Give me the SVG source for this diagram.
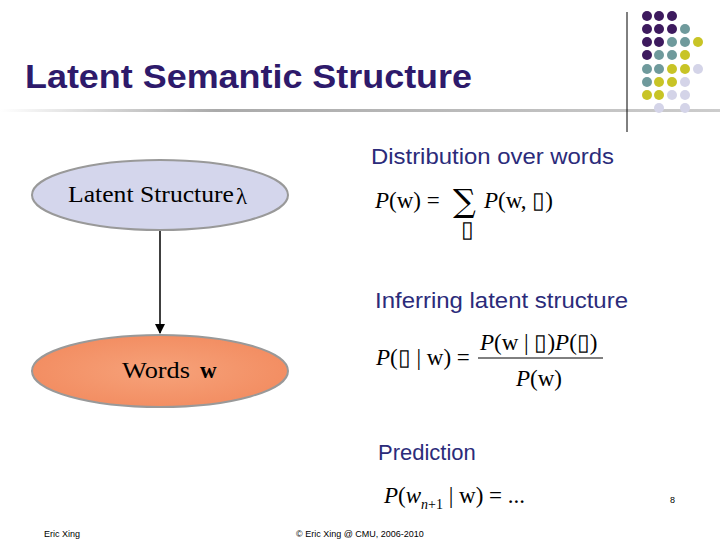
<svg xmlns="http://www.w3.org/2000/svg" width="720" height="540" viewBox="0 0 720 540">
<style>
.bl{font-family:"Liberation Sans",Arial,sans-serif;font-size:22px;fill:#2b2b7a}
.m{font-family:"Liberation Serif","Times New Roman",serif;font-size:23px;fill:#000}
.f{font-family:"Liberation Sans",Arial,sans-serif;font-size:9px;fill:#000}
.p{fill:#3d1a5e}.t{fill:#6f9a9c}.y{fill:#c8c426}.l{fill:#d4d4e8}
</style>
<defs>
<linearGradient id="hl" x1="0" x2="1"><stop offset="0" stop-color="#fff"/><stop offset="0.3" stop-color="#aaa"/><stop offset="1" stop-color="#ccc"/></linearGradient>
<radialGradient id="og" cx="0.5" cy="0.5" r="0.6"><stop offset="0" stop-color="#f6a27a"/><stop offset="1" stop-color="#f28a5e"/></radialGradient>
<marker id="ar" markerWidth="10" markerHeight="10" refX="9" refY="5" orient="auto" markerUnits="userSpaceOnUse"><path d="M0,0 L10,5 L0,10 z" fill="#000"/></marker>
</defs>
<rect width="720" height="540" fill="#fff"/>
<rect x="0" y="109" width="720" height="3" fill="url(#hl)"/>
<line x1="627" y1="12" x2="627" y2="132" stroke="#000" stroke-width="1"/>
<g id="dots">
<circle class="p" cx="647" cy="16" r="5"/><circle class="p" cx="659" cy="16" r="5"/><circle class="p" cx="672" cy="16" r="5"/>
<circle class="p" cx="647" cy="29" r="5"/><circle class="p" cx="659" cy="29" r="5"/><circle class="p" cx="672" cy="29" r="5"/><circle class="t" cx="685" cy="29" r="5"/>
<circle class="p" cx="647" cy="42" r="5"/><circle class="p" cx="659" cy="42" r="5"/><circle class="t" cx="672" cy="42" r="5"/><circle class="t" cx="685" cy="42" r="5"/><circle class="y" cx="698" cy="42" r="5"/>
<circle class="p" cx="647" cy="55" r="5"/><circle class="t" cx="659" cy="55" r="5"/><circle class="t" cx="672" cy="55" r="5"/><circle class="y" cx="685" cy="55" r="5"/>
<circle class="t" cx="647" cy="69" r="5"/><circle class="t" cx="659" cy="69" r="5"/><circle class="y" cx="672" cy="69" r="5"/><circle class="y" cx="685" cy="69" r="5"/><circle class="l" cx="698" cy="69" r="5"/>
<circle class="t" cx="647" cy="82" r="5"/><circle class="y" cx="659" cy="82" r="5"/><circle class="y" cx="672" cy="82" r="5"/><circle class="l" cx="685" cy="82" r="5"/>
<circle class="y" cx="647" cy="95" r="5"/><circle class="y" cx="659" cy="95" r="5"/><circle class="l" cx="672" cy="95" r="5"/><circle class="l" cx="685" cy="95" r="5"/>
<circle class="l" cx="659" cy="108" r="5"/><circle class="l" cx="685" cy="108" r="5"/>
</g>
<text x="25" y="88" font-family="Liberation Sans,Arial,sans-serif" font-size="34" font-weight="bold" fill="#2e1a6b" textLength="447" lengthAdjust="spacingAndGlyphs">Latent Semantic Structure</text>
<g id="connectors">
<line x1="160" y1="231" x2="160" y2="333" stroke="#000" stroke-width="1.5" marker-end="url(#ar)"/>
</g>
<g id="latent">
<ellipse cx="160" cy="195" rx="128" ry="35" fill="#d4d6ec" stroke="#999" stroke-width="2"/>
<text x="68" y="202" class="m" font-size="22" textLength="166" lengthAdjust="spacingAndGlyphs">Latent Structure</text>
<text x="236" y="204" class="m" font-size="28">λ</text>
</g>
<g id="words">
<ellipse cx="160" cy="371" rx="128" ry="36" fill="url(#og)" stroke="#999" stroke-width="2"/>
<text x="122" y="378" class="m" font-size="22" textLength="68" lengthAdjust="spacingAndGlyphs">Words</text>
<text x="200" y="378" class="m" font-size="28" font-weight="bold">w</text>
</g>
<text x="371" y="164" class="bl" textLength="243" lengthAdjust="spacingAndGlyphs">Distribution over words</text>
<text x="375" y="208" class="m"><tspan font-style="italic">P</tspan>(w) = </text>
<text x="453" y="212" font-family="DejaVu Serif,serif" font-size="32">∑</text>
<text x="461" y="237" class="m" font-size="11">▯</text>
<text x="484" y="208" class="m"><tspan font-style="italic">P</tspan>(w, ▯)</text>
<text x="375" y="308" class="bl" textLength="253" lengthAdjust="spacingAndGlyphs">Inferring latent structure</text>
<text x="376" y="365" class="m"><tspan font-style="italic">P</tspan>(▯ | w) =</text>
<text x="480" y="350" class="m"><tspan font-style="italic">P</tspan>(w | ▯)<tspan font-style="italic">P</tspan>(▯)</text>
<line x1="478" y1="358" x2="603" y2="358" stroke="#000" stroke-width="1"/>
<text x="516" y="386" class="m"><tspan font-style="italic">P</tspan>(w)</text>
<text x="378" y="460" class="bl">Prediction</text>
<text x="384" y="503" class="m" font-size="24"><tspan font-style="italic">P</tspan>(<tspan font-style="italic">w</tspan><tspan font-size="14" font-style="italic" dy="6">n</tspan><tspan font-size="14" dy="0">+1</tspan><tspan dy="-6"> | w) = ...</tspan></text>
<text x="670" y="503" class="f">8</text>
<text x="44" y="537" class="f">Eric Xing</text>
<text x="296" y="537" class="f">© Eric Xing @ CMU, 2006-2010</text>
</svg>
